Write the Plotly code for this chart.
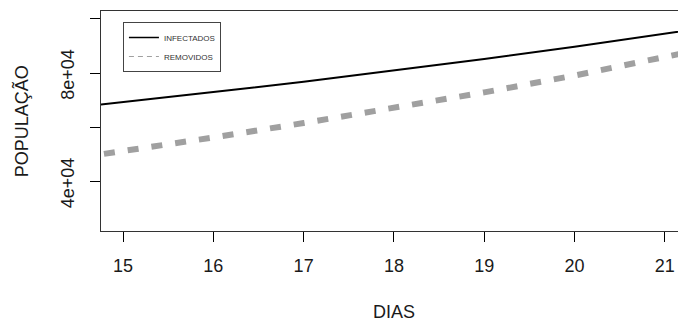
import plotly.graph_objects as go

# ---- data ----
dias = [14, 15, 16, 17, 18, 19, 20, 21, 22]
infectados = [65700, 69300, 73000, 76800, 80900, 85200, 89700, 94500, 99400]
removidos = [46300, 51200, 56300, 61600, 67100, 72900, 79100, 85800, 92800]

x_ticks = [15, 16, 17, 18, 19, 20, 21]
y_ticks = [40000, 60000, 80000, 100000]
y_tick_text = ["4e+04", "", "8e+04", ""]

FONT = "Arial, 'Liberation Sans', sans-serif"
TXT = "#1a1a1a"

fig = go.Figure()

fig.add_trace(go.Scatter(
    x=dias, y=infectados, mode="lines", name="INFECTADOS",
    line=dict(color="black", width=2), showlegend=False,
))
fig.add_trace(go.Scatter(
    x=dias, y=removidos, mode="lines", name="REMOVIDOS",
    line=dict(color="#a0a0a0", width=6, dash="11px,13px"), showlegend=False,
))
# legend entries (thin samples, as in the reference legend)
fig.add_trace(go.Scatter(
    x=[None], y=[None], mode="lines", name="INFECTADOS",
    line=dict(color="black", width=1.5),
))
fig.add_trace(go.Scatter(
    x=[None], y=[None], mode="lines", name="REMOVIDOS",
    line=dict(color="#a0a0a0", width=1, dash="5px,4px"),
))

fig.update_layout(
    width=678, height=327,
    margin=dict(l=101, r=0, t=11, b=96),
    paper_bgcolor="white", plot_bgcolor="white",
    font=dict(family=FONT, size=18, color=TXT),
    showlegend=True,
    legend=dict(
        x=0.038, y=0.95, xanchor="left", yanchor="top",
        bordercolor="#444", borderwidth=1, bgcolor="white",
        font=dict(size=8, color="#333"),
        tracegroupgap=0, itemwidth=30,
    ),
    xaxis=dict(
        range=[14.756, 21.146], tickvals=x_ticks,
        ticks="outside", ticklen=10, tickcolor="black", tickwidth=1,
        showline=True, linecolor="#333", linewidth=1, mirror=True,
        showgrid=False, zeroline=False, ticklabelstandoff=8,
        tickfont=dict(size=18, color=TXT, family=FONT),
    ),
    yaxis=dict(
        range=[21840, 102870], tickvals=y_ticks, ticktext=y_tick_text,
        tickangle=-90,
        ticks="outside", ticklen=10, tickcolor="black", tickwidth=1,
        showline=True, linecolor="#333", linewidth=1, mirror=False,
        showgrid=False, zeroline=False, ticklabelstandoff=9,
        ticklabelshift=4,
        tickfont=dict(size=18, color=TXT, family=FONT),
    ),
    annotations=[
        dict(text="DIAS", xref="paper", yref="paper", x=0.507, y=-0.368,
             xanchor="center", yanchor="middle", showarrow=False,
             font=dict(size=18, color=TXT, family=FONT)),
        dict(text="POPULAÇÃO", xref="paper", yref="paper", x=-0.138, y=0.5,
             xanchor="center", yanchor="middle", textangle=-90, showarrow=False,
             font=dict(size=18, color=TXT, family=FONT)),
    ],
)

fig.write_html(
    "out.html",
    config={"displayModeBar": False},
    post_script="document.body.style.margin='0';document.body.style.padding='0';",
)
